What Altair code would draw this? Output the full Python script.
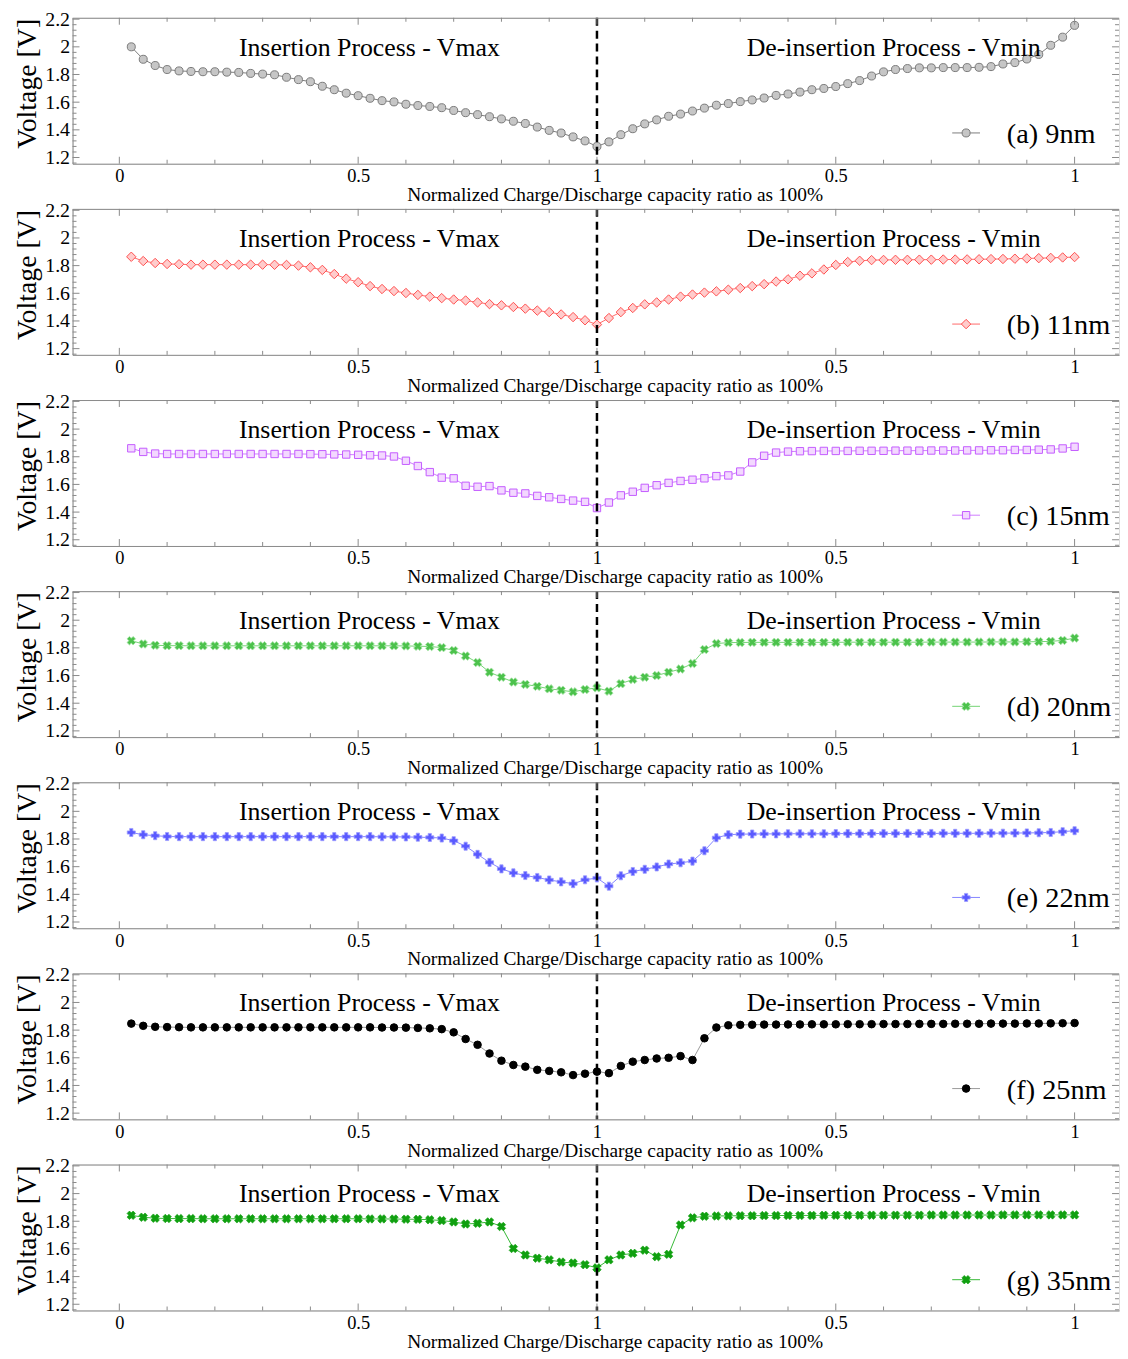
import altair as alt
import pandas as pd

# ---------------- data ----------------
capacity = [round(0.025 * k, 3) for k in range(1, 81)]  # 0.025 .. 2.0 (insertion 0-1, de-insertion 1-2)

v_9nm = [2.00, 1.91, 1.865, 1.836, 1.826, 1.822, 1.82, 1.82, 1.817, 1.815,
         1.808, 1.803, 1.798, 1.78, 1.763, 1.748, 1.715, 1.69, 1.665, 1.647,
         1.628, 1.611, 1.602, 1.585, 1.576, 1.569, 1.56, 1.54, 1.524, 1.51,
         1.495, 1.479, 1.462, 1.446, 1.42, 1.396, 1.377, 1.349, 1.32, 1.28,
         1.313, 1.365, 1.408, 1.443, 1.472, 1.498, 1.514, 1.536, 1.557, 1.578,
         1.59, 1.604, 1.616, 1.63, 1.649, 1.659, 1.673, 1.69, 1.699, 1.713,
         1.734, 1.756, 1.789, 1.819, 1.836, 1.843, 1.848, 1.848, 1.85, 1.85,
         1.85, 1.852, 1.857, 1.876, 1.886, 1.912, 1.945, 2.011, 2.07, 2.155]

v_11nm = [1.864, 1.833, 1.819, 1.812, 1.81, 1.807, 1.807, 1.807, 1.807, 1.807,
          1.807, 1.807, 1.806, 1.805, 1.80, 1.788, 1.769, 1.739, 1.706, 1.68,
          1.652, 1.631, 1.616, 1.602, 1.588, 1.576, 1.565, 1.555, 1.548, 1.534,
          1.522, 1.513, 1.501, 1.489, 1.475, 1.464, 1.447, 1.428, 1.405, 1.374,
          1.421, 1.464, 1.494, 1.52, 1.534, 1.555, 1.576, 1.591, 1.605, 1.614,
          1.626, 1.638, 1.652, 1.666, 1.685, 1.701, 1.727, 1.744, 1.772, 1.805,
          1.826, 1.835, 1.84, 1.841, 1.842, 1.842, 1.843, 1.843, 1.844, 1.844,
          1.845, 1.846, 1.847, 1.848, 1.85, 1.852, 1.854, 1.856, 1.859, 1.862]

v_15nm = [1.861, 1.835, 1.823, 1.82, 1.82, 1.82, 1.82, 1.82, 1.82, 1.82,
          1.82, 1.82, 1.82, 1.82, 1.82, 1.819, 1.818, 1.817, 1.816, 1.814,
          1.811, 1.809, 1.802, 1.771, 1.733, 1.689, 1.649, 1.644, 1.59, 1.583,
          1.588, 1.557, 1.54, 1.535, 1.517, 1.507, 1.495, 1.483, 1.474, 1.429,
          1.469, 1.521, 1.547, 1.575, 1.594, 1.611, 1.625, 1.634, 1.644, 1.66,
          1.665, 1.693, 1.759, 1.807, 1.83, 1.837, 1.84, 1.841, 1.842, 1.842,
          1.842, 1.843, 1.843, 1.843, 1.844, 1.844, 1.844, 1.845, 1.845, 1.845,
          1.846, 1.846, 1.847, 1.847, 1.849, 1.849, 1.851, 1.853, 1.86, 1.872]

v_20nm = [1.852, 1.828, 1.819, 1.816, 1.816, 1.815, 1.815, 1.815, 1.815, 1.815,
          1.815, 1.815, 1.815, 1.815, 1.815, 1.815, 1.815, 1.815, 1.815, 1.815,
          1.815, 1.815, 1.815, 1.814, 1.812, 1.81, 1.802, 1.781, 1.741, 1.694,
          1.624, 1.588, 1.553, 1.536, 1.522, 1.504, 1.494, 1.482, 1.499, 1.511,
          1.487, 1.541, 1.572, 1.588, 1.60, 1.624, 1.647, 1.687, 1.788, 1.831,
          1.838, 1.839, 1.84, 1.84, 1.84, 1.84, 1.84, 1.84, 1.84, 1.84,
          1.841, 1.841, 1.841, 1.841, 1.841, 1.841, 1.841, 1.842, 1.842, 1.842,
          1.842, 1.842, 1.843, 1.843, 1.843, 1.844, 1.845, 1.847, 1.854, 1.871]

v_22nm = [1.847, 1.831, 1.824, 1.818, 1.817, 1.817, 1.817, 1.817, 1.817, 1.817,
          1.817, 1.817, 1.817, 1.817, 1.817, 1.817, 1.817, 1.817, 1.817, 1.817,
          1.817, 1.816, 1.816, 1.815, 1.813, 1.811, 1.807, 1.788, 1.748, 1.689,
          1.631, 1.584, 1.555, 1.536, 1.522, 1.504, 1.49, 1.477, 1.505, 1.518,
          1.459, 1.534, 1.565, 1.581, 1.598, 1.619, 1.628, 1.64, 1.715, 1.809,
          1.831, 1.835, 1.836, 1.837, 1.837, 1.838, 1.838, 1.838, 1.838, 1.839,
          1.839, 1.839, 1.839, 1.84, 1.84, 1.84, 1.84, 1.84, 1.841, 1.841,
          1.841, 1.841, 1.842, 1.842, 1.843, 1.844, 1.845, 1.847, 1.853, 1.86]

v_25nm = [1.847, 1.831, 1.824, 1.822, 1.821, 1.82, 1.82, 1.82, 1.82, 1.82,
          1.82, 1.82, 1.82, 1.82, 1.82, 1.82, 1.82, 1.82, 1.82, 1.82,
          1.82, 1.819, 1.819, 1.818, 1.816, 1.813, 1.807, 1.784, 1.736, 1.694,
          1.631, 1.579, 1.548, 1.536, 1.513, 1.505, 1.495, 1.475, 1.485, 1.50,
          1.489, 1.541, 1.572, 1.584, 1.595, 1.60, 1.612, 1.584, 1.741, 1.819,
          1.835, 1.838, 1.839, 1.84, 1.84, 1.841, 1.841, 1.842, 1.842, 1.842,
          1.843, 1.843, 1.843, 1.844, 1.844, 1.844, 1.845, 1.845, 1.845, 1.846,
          1.846, 1.846, 1.847, 1.847, 1.847, 1.848, 1.848, 1.849, 1.85, 1.851]

v_35nm = [1.843, 1.829, 1.822, 1.82, 1.819, 1.819, 1.818, 1.818, 1.818, 1.818,
          1.818, 1.818, 1.818, 1.818, 1.818, 1.818, 1.818, 1.818, 1.818, 1.818,
          1.817, 1.817, 1.816, 1.815, 1.814, 1.811, 1.805, 1.795, 1.78, 1.785,
          1.795, 1.762, 1.603, 1.556, 1.533, 1.521, 1.505, 1.498, 1.486, 1.463,
          1.521, 1.556, 1.568, 1.591, 1.544, 1.561, 1.773, 1.825, 1.836, 1.838,
          1.839, 1.84, 1.84, 1.841, 1.841, 1.842, 1.842, 1.842, 1.843, 1.843,
          1.843, 1.843, 1.844, 1.844, 1.844, 1.844, 1.844, 1.845, 1.845, 1.845,
          1.845, 1.845, 1.845, 1.846, 1.846, 1.846, 1.846, 1.846, 1.846, 1.846]

series_labels = ["(a) 9nm", "(b) 11nm", "(c) 15nm", "(d) 20nm", "(e) 22nm", "(f) 25nm", "(g) 35nm"]
series_values = [v_9nm, v_11nm, v_15nm, v_20nm, v_22nm, v_25nm, v_35nm]

x_tick_values = [0, 0.5, 1, 1.5, 2]
x_tick_labels = ["0", "0.5", "1", "0.5", "1"]
y_tick_values = [1.2, 1.4, 1.6, 1.8, 2.0, 2.2]
x_minor_ticks = [0.1, 0.2, 0.3, 0.4, 0.6, 0.7, 0.8, 0.9, 1.1, 1.2, 1.3, 1.4, 1.6, 1.7, 1.8, 1.9]
y_minor_ticks = [1.16, 1.24, 1.28, 1.32, 1.36, 1.44, 1.48, 1.52, 1.56, 1.64, 1.68, 1.72, 1.76,
                 1.84, 1.88, 1.92, 1.96, 2.04, 2.08, 2.12, 2.16]
divider_at = [1.0]
ins_text = ["Insertion Process - Vmax"]
deins_text = ["De-insertion Process - Vmin"]
x_title = "Normalized Charge/Discharge capacity ratio as 100%"
y_title = "Voltage [V]"

# ---------------- styles ----------------
SERIF = "Liberation Serif"
FRAME = "#8a8a8a"
W, H = 1054, 147
XDOM = [-0.098, 2.093]
YDOM = [1.155, 2.21]

styles = [
    dict(line="#7d7d7d", shape="circle", fill="#c6c6c6", stroke="#7a7a7a", size=65, angle=0, sw=1),
    dict(line="#ff6a6a", shape="diamond", fill="#ffcccc", stroke="#ff4f4f", size=90, angle=0, sw=1),
    dict(line="#cf7cff", shape="square", fill="#f3d8ff", stroke="#c45cff", size=55, angle=0, sw=1),
    dict(line="#74d474", shape="cross", fill="#4cc24c", stroke="#a6e3a6", size=75, angle=45, sw=0.8),
    dict(line="#8484ff", shape="cross", fill="#5a5aff", stroke="#9c9cff", size=66, angle=0, sw=0.8),
    dict(line="#9a9a9a", shape="circle", fill="#000000", stroke="#000000", size=58, angle=0, sw=1),
    dict(line="#35b835", shape="cross", fill="#10a010", stroke="#10a010", size=75, angle=45, sw=0.6),
]

label_expr = " : ".join(
    f"datum.value == {v} ? '{l}'" for v, l in zip(x_tick_values, x_tick_labels)
) + " : ''"

xscale = alt.Scale(domain=XDOM, nice=False, zero=False)
yscale = alt.Scale(domain=YDOM, nice=False, zero=False)

x_axis = alt.Axis(values=x_tick_values, labelExpr=label_expr, ticks=False, grid=False,
                  domainColor=FRAME, domainWidth=1, labelFont=SERIF, labelFontSize=18.5,
                  labelColor="black", labelPadding=3, labelFlush=False, labelOverlap=False,
                  title=x_title, titleFont=SERIF, titleFontSize=19.5, titleFontWeight="normal",
                  titleColor="black", titleX=546, titleY=31, titleBaseline="middle",
                  titleAlign="center")
y_axis = alt.Axis(values=y_tick_values, format=".1~f", ticks=False, grid=False,
                  domainColor=FRAME, domainWidth=1, labelFont=SERIF, labelFontSize=20,
                  labelColor="black", labelPadding=3, labelOverlap=False, labelFlush=False,
                  title=y_title, titleFont=SERIF, titleFontSize=28, titleFontWeight="normal",
                  titleColor="black", titlePadding=3, titleY=66)


def tick_layers():
    layers = []
    for vals, ln in ((x_tick_values, 7), (x_minor_ticks, 4)):
        d = pd.DataFrame({"x": vals})
        c = alt.Chart(d).mark_rule(color=FRAME, strokeWidth=1)
        layers.append(c.encode(x=alt.X("x:Q", scale=xscale, axis=x_axis), y=alt.value(0), y2=alt.value(ln)))
        layers.append(c.encode(x=alt.X("x:Q", scale=xscale, axis=x_axis), y=alt.value(H), y2=alt.value(H - ln)))
    for vals, ln in ((y_tick_values, 7), (y_minor_ticks, 4)):
        d = pd.DataFrame({"v": vals})
        c = alt.Chart(d).mark_rule(color=FRAME, strokeWidth=1)
        layers.append(c.encode(y=alt.Y("v:Q", scale=yscale, axis=y_axis), x=alt.value(0), x2=alt.value(ln)))
        layers.append(c.encode(y=alt.Y("v:Q", scale=yscale, axis=y_axis), x=alt.value(W), x2=alt.value(W - ln)))
    top = alt.Chart(pd.DataFrame({"v": [0]})).mark_rule(color=FRAME, strokeWidth=1).encode(
        x=alt.value(0), x2=alt.value(W), y=alt.value(0.5))
    layers.append(top)
    return layers


def panel(label, values, st):
    df = pd.DataFrame({"x": capacity, "v": values})
    base = alt.Chart(df)
    enc_x = alt.X("x:Q", scale=xscale, axis=x_axis)
    enc_y = alt.Y("v:Q", scale=yscale, axis=y_axis)
    line = base.mark_line(color=st["line"], strokeWidth=1).encode(x=enc_x, y=enc_y)
    pt_kw = dict(shape=st["shape"], size=st["size"], filled=True, fill=st["fill"],
                 stroke=st["stroke"], strokeWidth=st["sw"], opacity=1, fillOpacity=1)
    if st["angle"]:
        pt_kw["angle"] = st["angle"]
    pts = base.mark_point(**pt_kw).encode(x=enc_x, y=enc_y)

    divider = alt.Chart(pd.DataFrame({"x": divider_at})).mark_rule(
        color="black", strokeWidth=2.5, strokeDash=[8, 5]).encode(x=enc_x)

    t1 = alt.Chart(pd.DataFrame({"t": ins_text})).mark_text(
        font=SERIF, fontSize=26, color="black", align="center", baseline="middle").encode(
        x=alt.value(299), y=alt.value(30), text="t:N")
    t2 = alt.Chart(pd.DataFrame({"t": deins_text})).mark_text(
        font=SERIF, fontSize=26, color="black", align="center", baseline="middle").encode(
        x=alt.value(827), y=alt.value(30), text="t:N")

    leg_line = alt.Chart(pd.DataFrame({"t": [label]})).mark_rule(
        color=st["line"], strokeWidth=1).encode(x=alt.value(886), x2=alt.value(914), y=alt.value(116))
    leg_pt = alt.Chart(pd.DataFrame({"t": [label]})).mark_point(**pt_kw).encode(
        x=alt.value(900), y=alt.value(116))
    leg_txt = alt.Chart(pd.DataFrame({"t": [label]})).mark_text(
        font=SERIF, fontSize=28.5, color="black", align="left", baseline="middle").encode(
        x=alt.value(941), y=alt.value(117), text="t:N")

    return alt.layer(line, pts, divider, t1, t2, *tick_layers(), leg_line, leg_pt, leg_txt).properties(
        width=W, height=H)


panels = [panel(l, v, s) for l, v, s in zip(series_labels, series_values, styles)]

chart = alt.vconcat(*panels, spacing=45.5, bounds="flush").properties(
    padding={"left": 5, "top": -5, "right": 0, "bottom": 0}
).configure_view(stroke=None).configure(background="white")

chart.save("out.html", embed_options={"renderer": "svg", "actions": False})
